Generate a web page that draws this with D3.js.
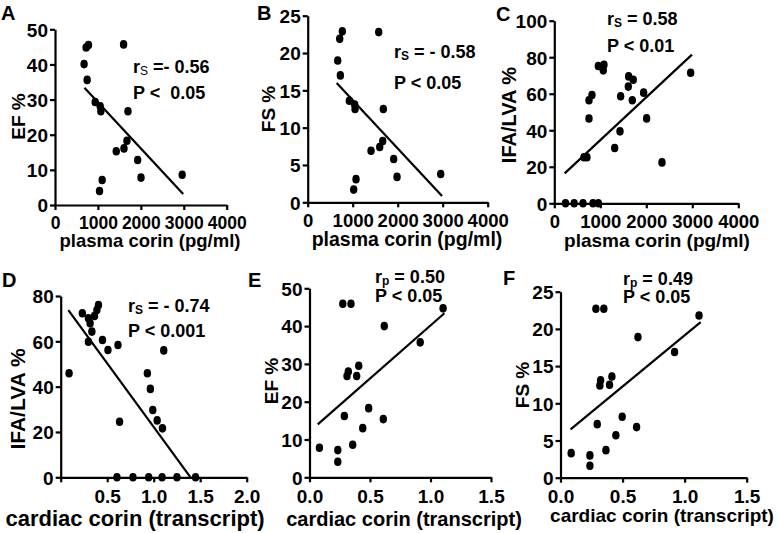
<!DOCTYPE html>
<html><head><meta charset="utf-8">
<script src="https://cdn.jsdelivr.net/npm/d3@7"></script>
<style>
html,body{margin:0;padding:0;background:#fff;}
svg text{font-family:"Liberation Sans",Arial,Helvetica,sans-serif;font-weight:bold;fill:#000;white-space:pre;}
</style></head>
<body><svg id="chart" width="778" height="533"></svg>
<script>
// ---------- data ----------
const aX = [678, 725, 780, 749, 936, 1053, 1068, 1037, 1099, 1598, 1700, 1427, 1607, 1676, 1926, 2004, 2963];
const aY = [40.1, 44.8, 45.5, 35.6, 29.3, 28.1, 26.7, 4.0, 7.1, 45.7, 26.7, 15.3, 16.1, 18.3, 12.8, 7.8, 8.6];
const aLineX = [686, 2986], aLineY = [33.4, 3.1];

const bX = [667, 711, 770, 726, 926, 1044, 1052, 1022, 1074, 1578, 1681, 1407, 1600, 1667, 1911, 1985, 2956];
const bY = [19.0, 21.9, 22.9, 17.0, 13.6, 13.1, 12.5, 1.7, 3.1, 22.8, 12.5, 6.9, 7.4, 8.2, 5.8, 3.4, 3.8];
const bLineX = [644, 2985], bLineY = [16.0, 0.85];

const cX = [244, 432, 624, 841, 957, 645, 710, 754, 754, 819, 957, 1080, 1065, 1312, 1428, 1442, 1609, 1616, 1717, 1696, 1942, 2007, 2341, 2964];
const cY = [0, 0, 0, 0, 0, 25.2, 25.2, 46.4, 56.4, 59.3, 75.2, 75.9, 72.8, 30.3, 39.4, 58.6, 63.9, 69.5, 67.7, 56.4, 60.6, 46.5, 22.4, 71.5];
const cLineX = [225, 2993], cLineY = [16.4, 81.4];

const dX = [0.233, 0.406, 0.389, 0.298, 0.363, 0.316, 0.335, 0.298, 0.449, 0.508, 0.616, 0.090, 0.633, 0.932, 0.964, 0.990, 1.037, 1.094, 1.108, 0.605, 0.777, 0.946, 1.09, 1.25, 1.45];
const dY = [72.4, 76.0, 73.8, 70.2, 71.2, 68.0, 64.3, 59.8, 60.6, 56.2, 58.4, 45.9, 24.5, 45.9, 39.0, 29.7, 25.1, 21.6, 56.0, 0, 0, 0, 0, 0, 0];
const dLineX = [0.082, 1.396], dLineY = [73.8, 0];

const eX = [0.082, 0.234, 0.234, 0.357, 0.288, 0.44, 0.489, 0.61, 0.31, 0.321, 0.39, 0.407, 0.275, 0.343, 0.618, 0.915, 1.104];
const eY = [7.8, 7.2, 4.1, 8.6, 16.2, 13.0, 18.3, 15.4, 26.8, 28.0, 26.8, 29.5, 45.9, 45.9, 40.0, 35.7, 44.7];
const eLineX = [0.068, 1.115], eLineY = [14.0, 43.4];

const fX = [0.086, 0.237, 0.237, 0.366, 0.296, 0.446, 0.497, 0.613, 0.317, 0.323, 0.395, 0.414, 0.285, 0.349, 0.624, 0.919, 1.116];
const fY = [3.3, 3.0, 1.6, 3.7, 7.2, 5.7, 8.2, 6.8, 12.4, 13.1, 12.5, 13.6, 22.7, 22.7, 18.9, 16.9, 21.8];
const fLineX = [0.081, 1.129], fLineY = [6.5, 20.9];

const plasmaTicks = [0, 1000, 2000, 3000, 4000];
const cardiacTicksD = [0, 0.5, 1.0, 1.5, 2.0];
const cardiacTicksEF = [0, 0.5, 1.0, 1.5];
const efTicks = [0, 10, 20, 30, 40, 50];
const fsTicks = [0, 5, 10, 15, 20, 25];
const ifaTicks = [0, 20, 40, 60, 80, 100];
const ifaTicksD = [0, 20, 40, 60, 80];

const letters = ["A", "B", "C", "D", "E", "F"];
const yTitles = ["EF %", "FS %", "IFA/LVA %", "IFA/LVA %", "EF %", "FS %"];
const xTitles = ["plasma corin (pg/ml)", "plasma corin (pg/ml)", "plasma corin (pg/ml)",
                 "cardiac corin (transcript)", "cardiac corin (transcript)", "cardiac corin (transcript)"];
const statSub = ["S", "S", "S", "S", "p", "p"];
const statR = [" =- 0.56", " = - 0.58", " = 0.58", " = - 0.74", " = 0.50", " = 0.49"];
const statP = ["P <  0.05", "P < 0.05", "P < 0.01", "P < 0.001", "P < 0.05", "P < 0.05"];

// ---------- layout (pixels) ----------
const panels = [
  {xs:aX, ys:aY, lx:aLineX, ly:aLineY, xd:[0,4000], yd:[0,50], xt:plasmaTicks, yt:efTicks, fmtX:d=>String(d), hideX0:false, xf:17.5,
   px:[55,226.7], py:[205,29.3], letter:[1,20], yT:[25,116.5,19], xT:[150,247,18.5], st:[133,73,99]},
  {xs:bX, ys:bY, lx:bLineX, ly:bLineY, xd:[0,4000], yd:[0,25], xt:plasmaTicks, yt:fsTicks, fmtX:d=>String(d), hideX0:false, xf:18.5,
   px:[307.7,487.7], py:[202.3,15.7], letter:[257,20], yT:[275,109,19], xT:[407,246,19.5], st:[394,58,89]},
  {xs:cX, ys:cY, lx:cLineX, ly:cLineY, xd:[0,4000], yd:[0,100], xt:plasmaTicks, yt:ifaTicks, fmtX:d=>String(d), hideX0:false, xf:18.5,
   px:[554.3,738.3], py:[203.3,20.7], letter:[496,21], yT:[516,115,20], xT:[657,246.5,19], st:[607,25,51.5]},
  {xs:dX, ys:dY, lx:dLineX, ly:dLineY, xd:[0,2], yd:[0,80], xt:cardiacTicksD, yt:ifaTicksD, fmtX:d=>d.toFixed(1), hideX0:true, xf:19,
   px:[60.7,246.7], py:[477.3,296], letter:[2,287], yT:[25,399,21], xT:[135,526,22], st:[128,311.5,337]},
  {xs:eX, ys:eY, lx:eLineX, ly:eLineY, xd:[0,1.5], yd:[0,50], xt:cardiacTicksEF, yt:efTicks, fmtX:d=>d.toFixed(1), hideX0:false, xf:19,
   px:[309.5,491], py:[477.3,288.3], letter:[248,287], yT:[278,381,19], xT:[404,526,20], st:[375,282.5,301.5]},
  {xs:fX, ys:fY, lx:fLineX, ly:fLineY, xd:[0,1.5], yd:[0,25], xt:cardiacTicksEF, yt:fsTicks, fmtX:d=>d.toFixed(1), hideX0:false, xf:19,
   px:[560.5,746.7], py:[477.7,291.7], letter:[503,285], yT:[529,385,19], xT:[662,522,19], st:[623,285,303]}
];

const svg = d3.select("#chart");

panels.forEach((p, i) => {
  const x = d3.scaleLinear().domain(p.xd).range(p.px);
  const y = d3.scaleLinear().domain(p.yd).range(p.py);
  const g = svg.append("g");

  // axes
  const xa = g.append("g").attr("transform", `translate(0,${p.py[0]})`)
    .call(d3.axisBottom(x).tickValues(p.xt).tickSize(5).tickSizeOuter(0).tickPadding(4)
      .tickFormat(d => (p.hideX0 && d === 0) ? "" : p.fmtX(d)));
  const ya = g.append("g").attr("transform", `translate(${p.px[0]},0)`)
    .call(d3.axisLeft(y).tickValues(p.yt).tickSize(5).tickSizeOuter(0).tickPadding(2));
  [xa, ya].forEach(a => {
    a.select(".domain").attr("stroke", "#000").attr("stroke-width", 2.2);
    a.selectAll(".tick line").attr("stroke", "#000").attr("stroke-width", 2.2);
    a.selectAll(".tick text").style("font-family", null).attr("fill", "#000");
  });
  xa.selectAll(".tick text").style("font-size", p.xf + "px").attr("dy", "0.86em");
  ya.selectAll(".tick text").style("font-size", "19px").attr("dy", "0.36em");

  // regression line
  g.append("line")
    .attr("x1", x(p.lx[0])).attr("y1", y(p.ly[0]))
    .attr("x2", x(p.lx[1])).attr("y2", y(p.ly[1]))
    .attr("stroke", "#000").attr("stroke-width", 2.2);

  // points
  g.selectAll("ellipse").data(p.xs.map((v, k) => [v, p.ys[k]])).enter().append("ellipse")
    .attr("cx", d => x(d[0])).attr("cy", d => y(d[1]))
    .attr("rx", 3.7).attr("ry", 4.3).attr("fill", "#000");

  // panel letter
  g.append("text").attr("x", p.letter[0]).attr("y", p.letter[1]).style("font-size", "20px").text(letters[i]);

  // y title
  g.append("text").attr("transform", `translate(${p.yT[0]},${p.yT[1]}) rotate(-90)`)
    .attr("text-anchor", "middle").style("font-size", p.yT[2] + "px").text(yTitles[i]);

  // x title
  g.append("text").attr("x", p.xT[0]).attr("y", p.xT[1]).attr("text-anchor", "middle")
    .style("font-size", p.xT[2] + "px").text(xTitles[i]);

  // stats
  const t1 = g.append("text").attr("x", p.st[0]).attr("y", p.st[1]).style("font-size", "18px");
  t1.append("tspan").text("r");
  t1.append("tspan").attr("dy", 2).style("font-size", "12px").style("font-weight", i === 0 ? "normal" : "bold").text(statSub[i]);
  t1.append("tspan").attr("dy", -2).text(statR[i]);
  g.append("text").attr("x", p.st[0]).attr("y", p.st[2]).style("font-size", "18px").text(statP[i]);
});
</script></body></html>
